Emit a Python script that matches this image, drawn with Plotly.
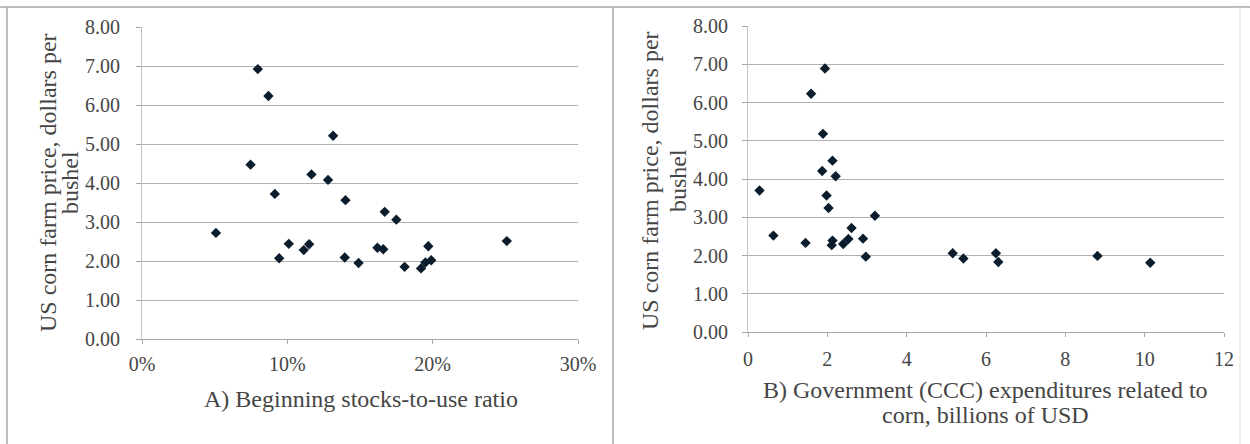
import plotly.graph_objects as go

# Panel A: beginning stocks-to-use ratio (fraction) vs. US corn farm price ($/bu)
stocks_to_use = [0.0509, 0.0747, 0.0797, 0.0870, 0.0914, 0.0944, 0.1010, 0.1113,
                 0.1150, 0.1166, 0.1280, 0.1315, 0.1395, 0.1400, 0.1490, 0.1620,
                 0.1660, 0.1670, 0.1750, 0.1807, 0.1920, 0.1950, 0.1970, 0.1990,
                 0.2510]
price_a = [2.72, 4.47, 6.92, 6.23, 3.72, 2.07, 2.44, 2.28,
           2.43, 4.22, 4.08, 5.21, 2.09, 3.56, 1.95, 2.34,
           2.30, 3.26, 3.06, 1.85, 1.81, 1.96, 2.38, 2.02,
           2.51]

# Panel B: government (CCC) expenditures related to corn (billion USD) vs. price
ccc_spending = [0.29, 0.64, 1.45, 1.59, 1.94, 1.89, 1.87, 2.13, 2.21, 1.98,
                2.03, 2.13, 2.11, 2.40, 2.53, 2.61, 2.90, 2.97, 3.20, 5.16,
                5.43, 6.25, 6.31, 8.81, 10.14]
price_b = [3.70, 2.52, 2.33, 6.23, 6.89, 5.18, 4.21, 4.48, 4.07, 3.57,
           3.24, 2.39, 2.27, 2.30, 2.43, 2.72, 2.44, 1.97, 3.04, 2.06,
           1.92, 2.06, 1.83, 1.99, 1.81]

y_ticks = [0, 1, 2, 3, 4, 5, 6, 7, 8]
y_title_line1 = "US corn farm price, dollars per"
y_title_line2 = "bushel"
x_title_a = "A) Beginning stocks-to-use ratio"
x_title_b_line1 = "B) Government (CCC) expenditures related to"
x_title_b_line2 = "corn, billions of USD"

W, H = 1250, 444
FONT = "Liberation Serif, Times New Roman, serif"
TXT = "#454545"
MARK = "#0b1d2c"

def px(x):
    return x / W

def py(y):
    return 1 - y / H

fig = go.Figure()
fig.add_trace(go.Scatter(x=stocks_to_use, y=price_a, mode="markers",
                         marker=dict(symbol="diamond", size=8, color=MARK),
                         xaxis="x", yaxis="y", showlegend=False))
fig.add_trace(go.Scatter(x=ccc_spending, y=price_b, mode="markers",
                         marker=dict(symbol="diamond", size=8, color=MARK),
                         xaxis="x2", yaxis="y2", showlegend=False))

common_x = dict(showline=True, linecolor="#a6a6a6", linewidth=1, showgrid=False,
                zeroline=False, ticks="outside", ticklen=4, tickcolor="#a6a6a6",
                automargin=False,
                tickfont=dict(family=FONT, size=20, color=TXT))
common_y = dict(showline=True, linecolor="#c4c4c4", linewidth=1, showgrid=True,
                gridcolor="#b0b0b0", gridwidth=1, zeroline=False, ticks="outside",
                ticklen=5, tickcolor="#a6a6a6", range=[0, 8], tickvals=y_ticks,
                automargin=False,
                tickformat=".2f", tickfont=dict(family=FONT, size=20, color=TXT))

fig.update_layout(
    width=W, height=H, margin=dict(l=0, r=0, t=0, b=0, autoexpand=False),
    paper_bgcolor="white", plot_bgcolor="white",
    xaxis=dict(domain=[px(142), px(578)], range=[0, 0.30], dtick=0.1,
               tickformat=".0%", anchor="y", ticklabelstandoff=3, **common_x),
    yaxis=dict(domain=[py(339), py(27)], anchor="x", ticklabelstandoff=12, **common_y),
    xaxis2=dict(domain=[px(748), px(1224)], range=[0, 12], dtick=2,
                anchor="y2", ticklabelstandoff=5, **common_x),
    yaxis2=dict(domain=[py(332), py(26)], anchor="x2", ticklabelstandoff=10, **common_y),
)

ann_font = dict(family=FONT, size=24, color=TXT)
anns = [
    dict(text=y_title_line1, x=px(48), y=py(183), textangle=-90),
    dict(text=y_title_line2, x=px(70), y=py(183), textangle=-90),
    dict(text=y_title_line1, x=px(650), y=py(181), textangle=-90),
    dict(text=y_title_line2, x=px(678), y=py(181), textangle=-90),
    dict(text=x_title_a, x=px(361), y=py(399)),
    dict(text=x_title_b_line1, x=px(986), y=py(390)),
    dict(text=x_title_b_line2, x=px(986), y=py(415)),
]
for a in anns:
    fig.add_annotation(xref="paper", yref="paper", xanchor="center", yanchor="middle",
                       showarrow=False, font=ann_font, **a)

# panel frames
frame = dict(type="line", xref="paper", yref="paper", line=dict(color="#a8a8a8", width=1.5))
fig.add_shape(x0=px(0), x1=1, y0=py(7), y1=py(7), **frame)
fig.add_shape(x0=px(7), x1=px(7), y0=py(7), y1=0, **frame)
fig.add_shape(x0=px(613), x1=px(613), y0=py(7), y1=0, **frame)
fig.add_shape(type="line", xref="paper", yref="paper", x0=px(1240), x1=px(1240),
              y0=py(7), y1=0, line=dict(color="#e2e2e2", width=1))

fig.write_html("out.html")
